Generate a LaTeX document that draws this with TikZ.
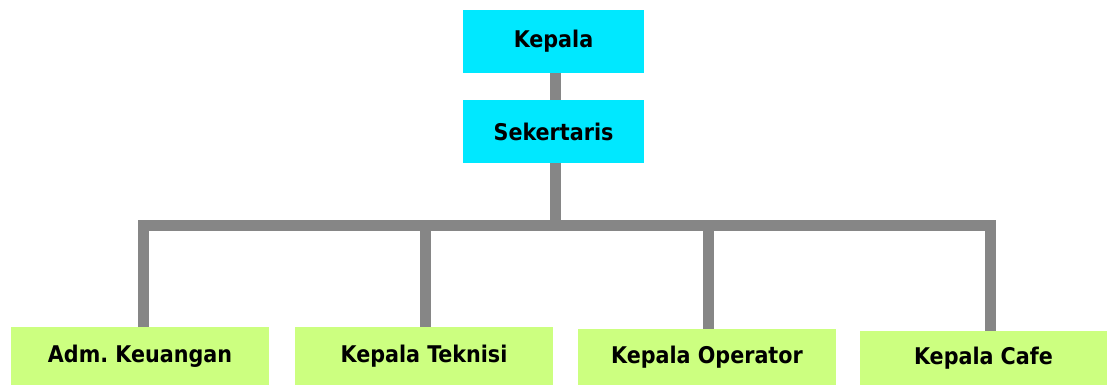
\documentclass[tikz,border=0pt]{standalone}
\usepackage{fontspec}
\setmainfont{DejaVu Sans Condensed}
\usepackage{tikz}
\definecolor{cyanbox}{RGB}{0,232,255}
\definecolor{greenbox}{RGB}{204,255,128}
\definecolor{linegray}{RGB}{134,134,134}
\tikzset{every picture/.style={line width=0.75pt}}

\begin{document}
\begin{tikzpicture}[x=1pt,y=1pt,yscale=-1,
	topbox/.style={fill=cyanbox, inner sep=0pt, minimum width=181, minimum height=63, font=\fontsize{23}{27}\selectfont\bfseries},
	unitbox/.style={fill=greenbox, inner sep=0pt, minimum width=258, minimum height=58, font=\fontsize{23}{27}\selectfont\bfseries},
	conn/.style={draw=linegray, line width=11pt}]
	%set diagram size
	\useasboundingbox (0,0) rectangle (1107,385);
	
	% Boxes
	\node[topbox] (kepala) at (553.5,41.5) {Kepala};
	\node[topbox] (sek) at (553.5,131.5) {Sekertaris};
	\node[unitbox] (adm) at (140,356) {Adm.\ Keuangan};
	\node[unitbox] (tek) at (424,356) {Kepala Teknisi};
	\node[unitbox, minimum height=56] (ope) at (707,357) {Kepala Operator};
	\node[unitbox, minimum width=247, minimum height=54] (cafe) at (983.5,358) {Kepala Cafe};
	
	% Bus line
	\coordinate (bus) at (555,225);
	
	% Connectors
	\draw[conn] ([xshift=1.5]kepala.south) -- ([xshift=1.5]sek.north);
	\draw[conn] ([xshift=1.5]sek.south) -- (bus);
	\draw[conn] ([xshift=3]adm.north) |- (bus) -| ([xshift=6.5]cafe.north);
	\draw[conn] ([xshift=1]tek.north) -- ([xshift=1]tek.north |- bus);
	\draw[conn] ([xshift=1]ope.north) -- ([xshift=1]ope.north |- bus);
\end{tikzpicture}
\end{document}
